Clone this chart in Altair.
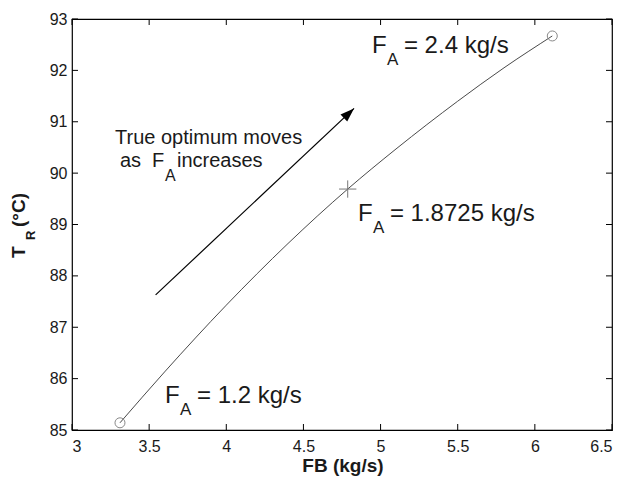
import altair as alt
import pandas as pd

# ---- data ----
FB = [3.311, 3.60, 4.00, 4.40, 4.787, 5.10, 5.50, 5.80, 6.113]
TR = [85.14, 86.13, 87.43, 88.63, 89.69, 90.47, 91.40, 92.05, 92.67]

END_FB = [3.311, 6.113]
END_TR = [85.14, 92.67]

OPT_FB = [4.787]
OPT_TR = [89.69]

ARROW_FB = [3.542, 4.828]
ARROW_TR = [87.63, 91.26]

X_TICKS = [3, 3.5, 4, 4.5, 5, 5.5, 6, 6.5]
Y_TICKS = [85, 86, 87, 88, 89, 90, 91, 92, 93]

FONT = "Liberation Sans"
TXT = "#1a1a1a"

x_scale = alt.Scale(domain=[3, 6.5], nice=False, zero=False)
y_scale = alt.Scale(domain=[85, 93], nice=False, zero=False)

curve_df = pd.DataFrame({"FB": FB, "TR": TR})
end_df = pd.DataFrame({"FB": END_FB, "TR": END_TR})
opt_df = pd.DataFrame({"FB": OPT_FB, "TR": OPT_TR})
arrow_df = pd.DataFrame({"FB": ARROW_FB, "TR": ARROW_TR})
head_df = arrow_df.iloc[[1]]
xt_df = pd.DataFrame({"v": X_TICKS})
yt_df = pd.DataFrame({"v": Y_TICKS})

X = alt.X("FB:Q", scale=x_scale,
          axis=alt.Axis(values=X_TICKS, title=None, labelExpr="'' + datum.value",
                        labelPadding=8))
Y = alt.Y("TR:Q", scale=y_scale,
          axis=alt.Axis(values=Y_TICKS, title=None, labelExpr="'' + datum.value",
                        labelPadding=5))

curve = alt.Chart(curve_df).mark_line(color="#4a4a4a", strokeWidth=1, interpolate="monotone").encode(x=X, y=Y)
ends = alt.Chart(end_df).mark_point(shape="circle", filled=False, size=100, color="#888888",
                                    strokeWidth=1, opacity=1).encode(x="FB:Q", y="TR:Q")
opt = alt.Chart(opt_df).mark_point(shape="M-1,0L1,0M0,-1L0,1", filled=False, size=300,
                                   color="#777777", strokeWidth=1, opacity=1).encode(x="FB:Q", y="TR:Q")
arrow = alt.Chart(arrow_df).mark_line(color="black", strokeWidth=1.2).encode(x="FB:Q", y="TR:Q")
head = alt.Chart(head_df).mark_point(shape="M0,0L-0.35,1L0.35,1Z", filled=True, size=784, angle=46.7,
                                     color="black", opacity=1).encode(x="FB:Q", y="TR:Q")

# inward ticks on all four sides
TL = 6
t_bottom = alt.Chart(xt_df).mark_rule(color="black", y2Offset=-TL).encode(
    x=alt.X("v:Q", scale=x_scale), y=alt.datum(85, scale=y_scale), y2=alt.datum(85))
t_top = alt.Chart(xt_df).mark_rule(color="black", y2Offset=TL).encode(
    x=alt.X("v:Q", scale=x_scale), y=alt.datum(93, scale=y_scale), y2=alt.datum(93))
t_left = alt.Chart(yt_df).mark_rule(color="black", x2Offset=TL).encode(
    y=alt.Y("v:Q", scale=y_scale), x=alt.datum(3, scale=x_scale), x2=alt.datum(3))
t_right = alt.Chart(yt_df).mark_rule(color="black", x2Offset=-TL).encode(
    y=alt.Y("v:Q", scale=y_scale), x=alt.datum(6.5, scale=x_scale), x2=alt.datum(6.5))


def txt(x, y, s, size, dx=0, dy=0, bold=False):
    return alt.Chart(pd.DataFrame({"x": [x], "y": [y], "t": [s]})).mark_text(
        align="left", baseline="alphabetic", font=FONT, fontSize=size, dx=dx, dy=dy,
        color=TXT, fontWeight="bold" if bold else "normal"
    ).encode(x=alt.X("x:Q", scale=x_scale), y=alt.Y("y:Q", scale=y_scale), text="t:N")


def fa_label(x, y, rest):
    return [txt(x, y, "F", 24), txt(x, y, "A", 17, dx=15, dy=12), txt(x, y, rest, 24, dx=32)]


labels = []
labels += fa_label(4.944, 92.33, "= 2.4 kg/s")
labels += fa_label(4.853, 89.06, "= 1.8725 kg/s")
labels += fa_label(3.603, 85.535, "= 1.2 kg/s")
labels += [
    txt(3.279, 90.561, "True optimum moves", 20),
    txt(3.311, 90.125, "as", 20),
    txt(3.311, 90.125, "F", 20, dx=32),
    txt(3.311, 90.125, "A", 16, dx=45, dy=14),
    txt(3.311, 90.125, "increases", 20, dx=57),
]


def title_piece(s, size, px, py, angle=0, align="left"):
    return alt.Chart(pd.DataFrame({"t": [s]})).mark_text(
        align=align, baseline="alphabetic", angle=angle, font=FONT, fontSize=size,
        fontWeight="bold", color=TXT
    ).encode(x=alt.value(px), y=alt.value(py), text="t:N")


title_parts = [
    title_piece("T", 19, -47, 239, angle=270),
    title_piece("R", 13, -37, 221, angle=270),
    title_piece("(°C)", 19, -47, 208, angle=270),
    title_piece("FB (kg/s)", 19, 271, 453, align="center"),
]

chart = alt.layer(
    curve, arrow, head, ends, opt, t_bottom, t_top, t_left, t_right, *labels, *title_parts
).properties(
    width=540, height=411,
    autosize=alt.AutoSizeParams(type="none"),
    padding={"left": 64, "top": 11, "right": 6, "bottom": 46},
    background="white",
).configure_view(
    stroke="black", strokeWidth=1.2
).configure_axis(
    labelFont=FONT, labelFontSize=16, labelColor=TXT,
    domain=False, ticks=False, tickSize=0, grid=False
)

chart.save("out.html", embed_options={"renderer": "svg", "actions": False})
